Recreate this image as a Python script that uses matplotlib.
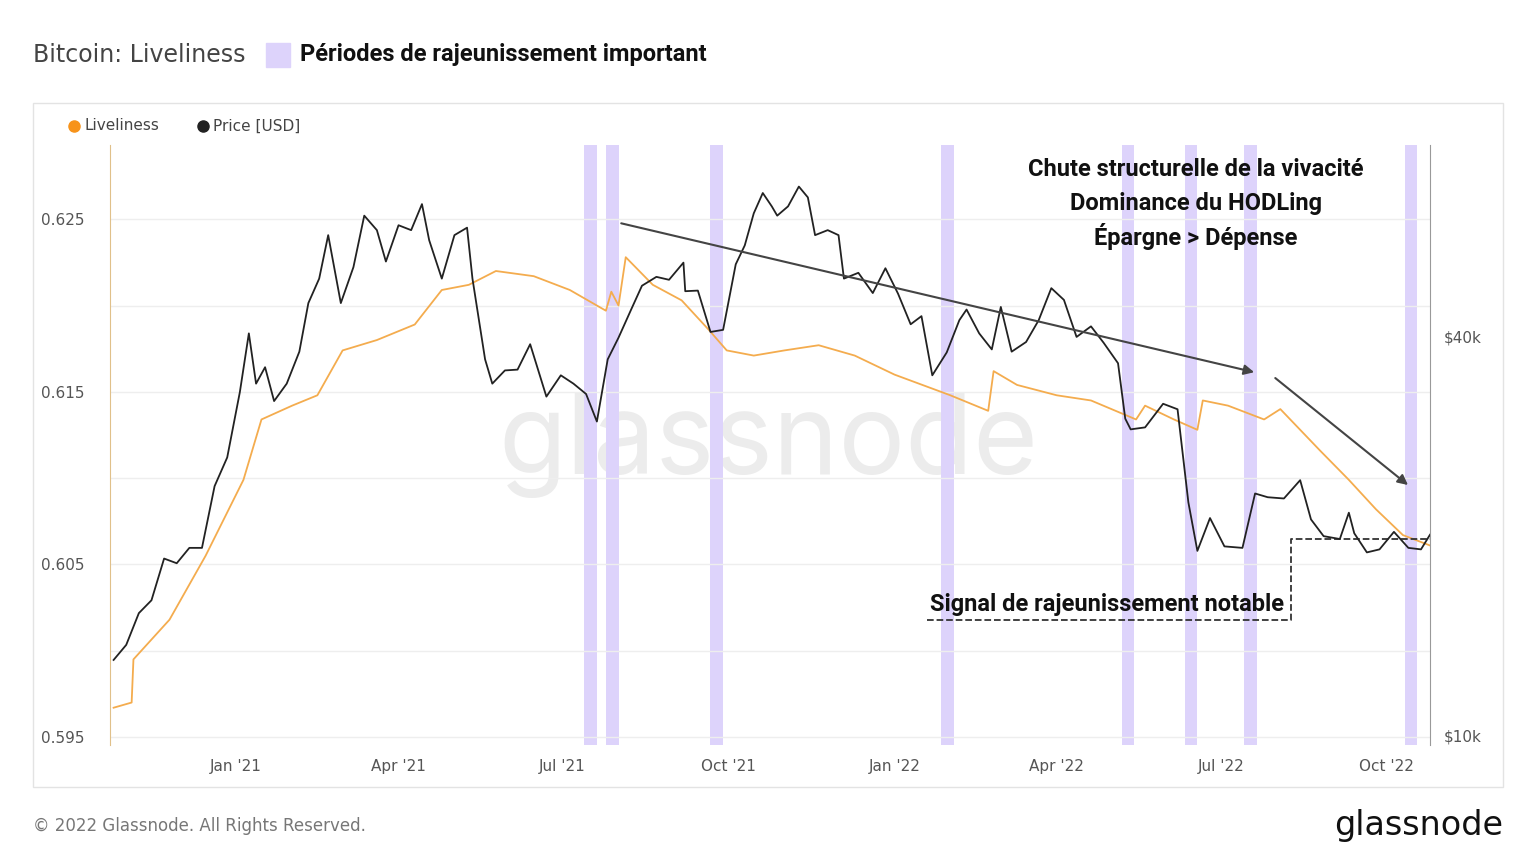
import matplotlib
matplotlib.use("Agg")
import matplotlib.pyplot as plt
import matplotlib.dates as mdates
import numpy as np
import pandas as pd
from matplotlib.patches import Rectangle
from matplotlib.lines import Line2D

price_dates = ["2020-10-25","2020-11-01","2020-11-08","2020-11-15","2020-11-22","2020-11-29","2020-12-06","2020-12-13","2020-12-20","2020-12-27",
"2021-01-03","2021-01-08","2021-01-12","2021-01-17","2021-01-22","2021-01-29","2021-02-05","2021-02-10","2021-02-16","2021-02-21","2021-02-28",
"2021-03-07","2021-03-13","2021-03-20","2021-03-25","2021-04-01","2021-04-08","2021-04-14","2021-04-18","2021-04-25","2021-05-02","2021-05-09",
"2021-05-12","2021-05-19","2021-05-23","2021-05-30","2021-06-06","2021-06-13","2021-06-22","2021-06-30","2021-07-07","2021-07-14","2021-07-20",
"2021-07-26","2021-08-01","2021-08-08","2021-08-14","2021-08-22","2021-08-29","2021-09-06","2021-09-07","2021-09-14","2021-09-21","2021-09-28",
"2021-10-05","2021-10-10","2021-10-15","2021-10-20","2021-10-25","2021-10-28","2021-11-03","2021-11-09","2021-11-14","2021-11-18","2021-11-25",
"2021-12-01","2021-12-04","2021-12-12","2021-12-20","2021-12-27","2022-01-03","2022-01-10","2022-01-16","2022-01-22","2022-01-30","2022-02-06",
"2022-02-10","2022-02-17","2022-02-24","2022-03-01","2022-03-07","2022-03-15","2022-03-22","2022-03-29","2022-04-05","2022-04-12","2022-04-20",
"2022-04-27","2022-05-05","2022-05-09","2022-05-12","2022-05-20","2022-05-30","2022-06-07","2022-06-13","2022-06-18","2022-06-25","2022-07-03",
"2022-07-13","2022-07-20","2022-07-27","2022-08-05","2022-08-14","2022-08-20","2022-08-27","2022-09-05","2022-09-10","2022-09-13","2022-09-20",
"2022-09-27","2022-10-05","2022-10-13","2022-10-20","2022-10-25"]
price_k = [13.0,13.7,15.3,16.0,18.5,18.2,19.2,19.2,23.8,26.3,
33.0,40.5,34,36,32,34,38,45,49,57,45,
51,61,58,52,59,58,63.5,56,49,57,58.5,
49,37,34,35.6,35.7,39,32.5,35,34,32.8,29.8,
37,39.9,44,47.8,49.3,48.8,51.8,46.9,47,40.7,41,
51.5,55,61.5,66,63,61,63,67.5,65,57,58,
57,49,50,46.6,50.8,46.5,41.8,43,35,37.9,42.4,
44,40.5,38.3,44.4,38,39.3,42.4,47.4,45.5,40,41.5,
39.2,36.5,30.1,29,29.2,31.7,31.1,22.5,19.0,21.3,19.3,
19.2,23.2,22.9,22.8,24.3,21.2,20.0,19.8,21.7,20.2,18.9,
19.1,20.3,19.2,19.1,20.1]

live_dates = ["2020-10-25","2020-11-04","2020-11-05","2020-11-25","2020-12-15","2021-01-05","2021-01-15","2021-02-01","2021-02-15","2021-03-01",
"2021-03-20","2021-04-10","2021-04-25","2021-05-10","2021-05-25","2021-06-15","2021-07-05","2021-07-25","2021-07-28","2021-08-01","2021-08-05",
"2021-08-20","2021-09-05","2021-09-20","2021-09-30","2021-10-15","2021-11-01","2021-11-20","2021-12-10","2022-01-01","2022-02-01","2022-02-22",
"2022-02-25","2022-03-10","2022-04-01","2022-04-20","2022-05-15","2022-05-20","2022-06-05","2022-06-18","2022-06-21","2022-07-05","2022-07-25",
"2022-08-03","2022-08-25","2022-09-10","2022-09-25","2022-10-10","2022-10-25"]
liveliness = [0.5967,0.5970,0.5995,0.6018,0.6055,0.6099,0.6134,0.6142,0.6148,0.6174,
0.6180,0.6189,0.6209,0.6212,0.6220,0.6217,0.6209,0.6197,0.6208,0.6200,0.6228,
0.6212,0.6203,0.6186,0.6174,0.6171,0.6174,0.6177,0.6171,0.6160,0.6148,0.6139,
0.6162,0.6154,0.6148,0.6145,0.6134,0.6142,0.6134,0.6128,0.6145,0.6142,0.6134,
0.6140,0.6116,0.6099,0.6082,0.6067,0.6061]

bands = [("2021-07-13","2021-07-20"),("2021-07-25","2021-08-01"),("2021-09-21","2021-09-28"),
("2022-01-27","2022-02-03"),("2022-05-07","2022-05-14"),("2022-06-11","2022-06-18"),
("2022-07-14","2022-07-21"),("2022-10-11","2022-10-18")]

def dn(s):
    return mdates.date2num(pd.Timestamp(s))

fig = plt.figure(figsize=(15.36, 8.64), dpi=100)
W, H = 1536, 864
fig.patches.append(Rectangle((33/W, 1-787/H), 1470/W, 684/H, transform=fig.transFigure,
                             fill=False, ec="#e3e3e3", lw=1))
fig.text(768/W, 1-445/H, "glassnode", fontsize=80, color="#ececec", ha="center", va="center",
         family="Inter", zorder=0)

ax = fig.add_axes([110/W, 1-745/H, 1320/W, 600/H])
ax2 = ax.twinx()
ax.set_zorder(1); ax2.set_zorder(2); ax2.patch.set_visible(False); ax.patch.set_visible(False)

pd_dates = pd.to_datetime(price_dates)
ld = pd.to_datetime(live_dates)
for a, b in bands:
    ax.axvspan(pd.Timestamp(a), pd.Timestamp(b), color="#ddd3fb", zorder=0, lw=0)

ax.plot(ld, liveliness, color="#f4ac4e", lw=1.3, zorder=3)
ax2.plot(pd_dates, np.array(price_k)*1000, color="#222222", lw=1.3)
ax2.set_yscale("log")
ax2.set_ylim(9670, 78000)
ax2.set_yticks([10000, 40000]); ax2.set_yticklabels(["$10k", "$40k"])
ax2.yaxis.set_minor_locator(matplotlib.ticker.NullLocator())

ax.set_ylim(0.59454, 0.6293)
ax.set_yticks([0.595, 0.600, 0.605, 0.610, 0.615, 0.620, 0.625])
ax.set_yticklabels(["0.595", "", "0.605", "", "0.615", "", "0.625"])
ax.grid(axis="y", color="#eeeeee", lw=1)
ax.set_xlim(pd.Timestamp("2020-10-23"), pd.Timestamp("2022-10-25"))
ax.xaxis.set_major_locator(mdates.MonthLocator(bymonth=[1, 4, 7, 10]))
ax.xaxis.set_major_formatter(mdates.DateFormatter("%b '%y"))
for a_ in (ax, ax2):
    for s in a_.spines.values(): s.set_visible(False)
    a_.tick_params(length=0, labelsize=11, colors="#555555", pad=10)
ax.spines["left"].set_visible(True); ax.spines["left"].set_color("#e0c08a")
ax2.spines["right"].set_visible(True); ax2.spines["right"].set_color("#999999")
ax.tick_params(axis="y", pad=18)

ax2.annotate("", xy=(dn("2022-07-21"), 0.6161), xytext=(dn("2021-08-01"), 0.6248),
             xycoords=ax.transData, textcoords=ax.transData,
             arrowprops=dict(arrowstyle="-|>", color="#444444", lw=1.5, mutation_scale=15))
ax2.annotate("", xy=(dn("2022-10-14"), 0.6095), xytext=(dn("2022-07-30"), 0.6159),
             xycoords=ax.transData, textcoords=ax.transData,
             arrowprops=dict(arrowstyle="-|>", color="#444444", lw=1.5, mutation_scale=15))
xa, xb, xc = pd.Timestamp("2022-01-19"), pd.Timestamp("2022-08-09"), pd.Timestamp("2022-10-25")
ax.plot([xa, xb, xb, xc], [0.6018, 0.6018, 0.6065, 0.6065], ls="--", color="#333333", lw=1.3, zorder=4)
fig.text(930/W, 1-605/H, "Signal de rajeunissement notable", fontsize=17, fontweight="bold",
         ha="left", va="center", family="Roboto", color="#111111")
for i, t in enumerate(["Chute structurelle de la vivacité", "Dominance du HODLing", "Épargne > Dépense"]):
    fig.text(1196/W, 1-(170+33.5*i)/H, t, fontsize=17, fontweight="bold", ha="center", va="center",
             family="Roboto", color="#111111")

fig.text(33/W, 1-55/H, "Bitcoin: Liveliness", fontsize=17, color="#444444", va="center")
fig.patches.append(Rectangle((266/W, 1-67/H), 24/W, 24/H, transform=fig.transFigure, color="#ddd3fb"))
fig.text(300/W, 1-55/H, "Périodes de rajeunissement important", fontsize=17, fontweight="bold",
         va="center", family="Roboto", color="#111111")
fig.add_artist(Line2D([74/W], [1-126/H], marker="o", ms=8, color="#f7931a", transform=fig.transFigure))
fig.text(85/W, 1-126/H, "Liveliness", fontsize=11, color="#444444", va="center")
fig.add_artist(Line2D([203/W], [1-126/H], marker="o", ms=8, color="#222222", transform=fig.transFigure))
fig.text(213/W, 1-126/H, "Price [USD]", fontsize=11, color="#444444", va="center")
fig.text(33/W, 1-826/H, "© 2022 Glassnode. All Rights Reserved.", fontsize=12, color="#777777", va="center")
fig.text(1503/W, 1-826/H, "glassnode", fontsize=24, color="#111111", va="center", ha="right")

fig.savefig("out.png", dpi=100)
